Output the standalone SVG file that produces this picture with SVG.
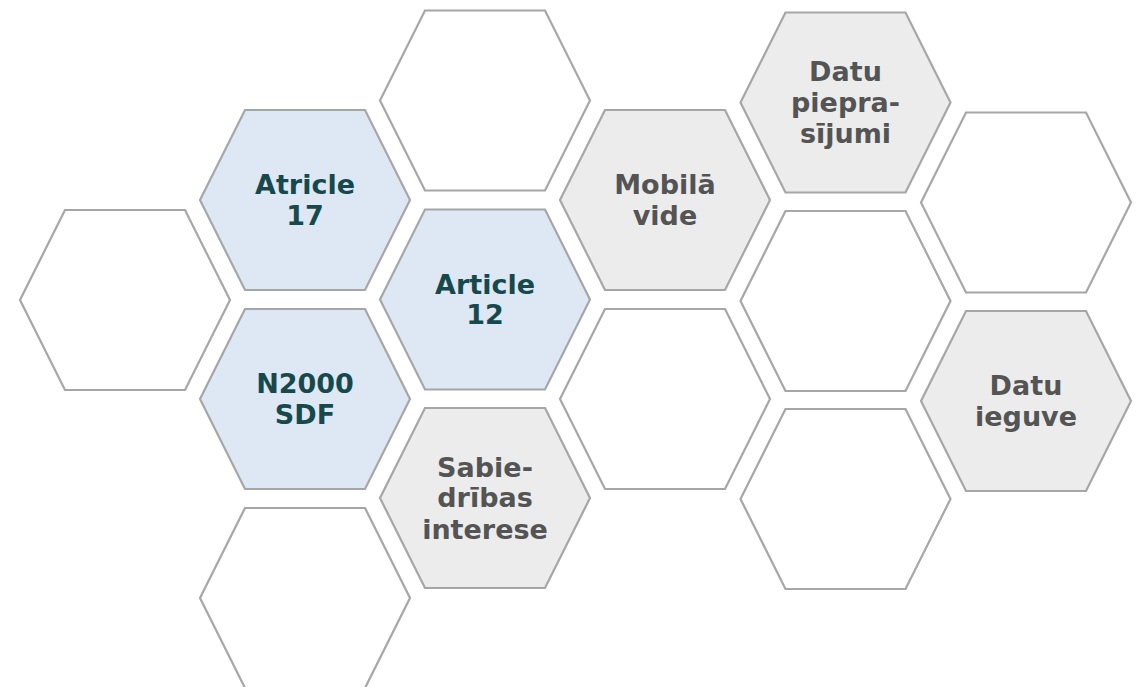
<svg xmlns="http://www.w3.org/2000/svg" width="1138" height="687" viewBox="0 0 1138 687">
<defs>
<style>
.hex{stroke:#a6a6a6;stroke-width:2.2;stroke-linejoin:miter}
.blank{fill:#ffffff}
.blue{fill:#dde8f4}
.grey{fill:#ececec}
text{font-family:"DejaVu Sans",Verdana,sans-serif;font-weight:bold;font-size:27px;text-anchor:middle}
.tb{fill:#17494c}
.tg{fill:#545454}
</style>
<polygon id="hx" points="-105,0 -60,-90 60,-90 105,0 60,90 -60,90"/>
</defs>
<rect width="1138" height="687" fill="#ffffff"/>
<g id="connectors"/>
<g id="h1"><use href="#hx" class="hex blank" x="125" y="300"/></g>
<g id="h2"><use href="#hx" class="hex blue" x="305" y="200"/><text class="tb" x="305" y="194">Atricle</text><text class="tb" x="305" y="225">17</text></g>
<g id="h3"><use href="#hx" class="hex blue" x="305" y="399"/><text class="tb" x="305" y="393">N2000</text><text class="tb" x="305" y="423.5">SDF</text></g>
<g id="h4"><use href="#hx" class="hex blank" x="305" y="598"/></g>
<g id="h5"><use href="#hx" class="hex blank" x="485" y="100.5"/></g>
<g id="h6"><use href="#hx" class="hex blue" x="485" y="299.5"/><text class="tb" x="485" y="293.5">Article</text><text class="tb" x="485" y="323.5">12</text></g>
<g id="h7"><use href="#hx" class="hex grey" x="485" y="498"/><text class="tg" x="485" y="477">Sabie-</text><text class="tg" x="485" y="507">drības</text><text class="tg" x="485" y="538.5">interese</text></g>
<g id="h8"><use href="#hx" class="hex grey" x="665" y="200"/><text class="tg" x="665" y="194">Mobilā</text><text class="tg" x="665" y="224.5">vide</text></g>
<g id="h9"><use href="#hx" class="hex blank" x="665" y="399"/></g>
<g id="h10"><use href="#hx" class="hex grey" x="845.5" y="102.5"/><text class="tg" x="845.5" y="81">Datu</text><text class="tg" x="845.5" y="112">piepra-</text><text class="tg" x="845.5" y="143">sījumi</text></g>
<g id="h11"><use href="#hx" class="hex blank" x="845.5" y="301"/></g>
<g id="h12"><use href="#hx" class="hex blank" x="845.5" y="499"/></g>
<g id="h13"><use href="#hx" class="hex blank" x="1026" y="202.5"/></g>
<g id="h14"><use href="#hx" class="hex grey" x="1026" y="401"/><text class="tg" x="1026" y="395">Datu</text><text class="tg" x="1026" y="426">ieguve</text></g>
</svg>
